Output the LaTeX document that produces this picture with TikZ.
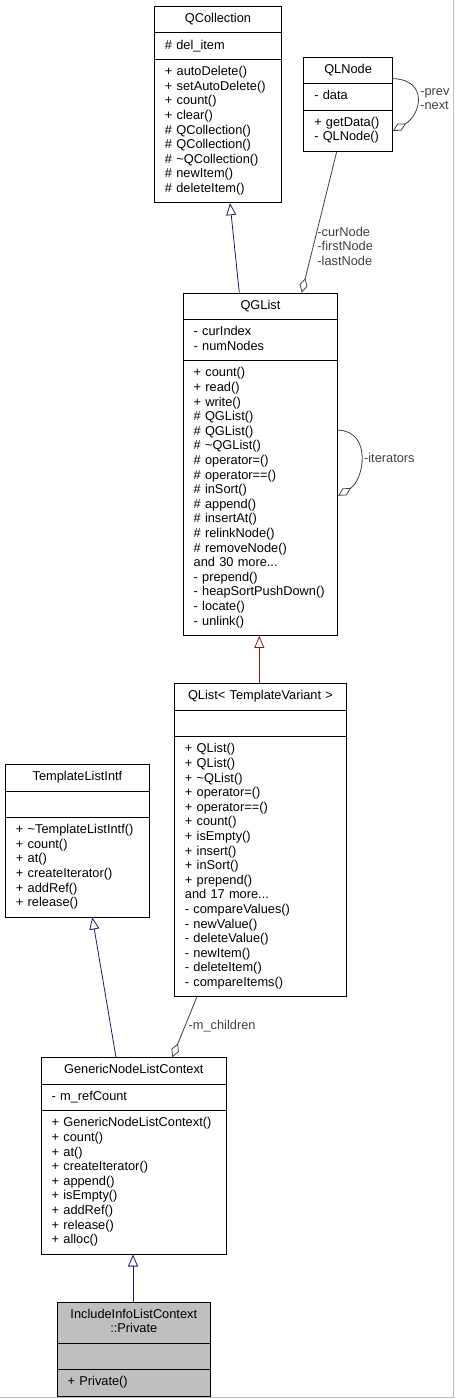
\documentclass[tikz,border=0pt]{standalone}
\usepackage{fontspec}
\setmainfont{Liberation Sans}
\usetikzlibrary{shapes.multipart,arrows.meta}

\definecolor{inhblue}{RGB}{25,25,112}
\definecolor{inhred}{RGB}{139,26,26}
\definecolor{usegray}{RGB}{64,64,64}
\definecolor{framegray}{RGB}{190,190,190}

% one strut at each end of a part
\newcommand{\ml}[1]{\strut#1\strut}
% centred title line
\newcommand{\ctr}[1]{\makebox[\linewidth]{#1}}

\tikzset{
  classbox/.style={rectangle split, rectangle split parts=3, draw=black, line width=0.9pt,
    anchor=north west, align=left, inner xsep=10.5pt, inner ysep=5.5pt,
    font=\fontsize{12.8}{14.6}\selectfont},
  inherit/.style={line width=0.8pt, -{Triangle[open,length=12pt,width=10pt]}},
  uses/.style={usegray, line width=0.8pt, -{Diamond[open,length=15pt,width=8pt]}},
  rolelabel/.style={font=\fontsize{12.8}{14.6}\selectfont, align=left, inner sep=1pt, anchor=west}
}

\begin{document}
\begin{tikzpicture}[x=1pt,y=-1pt]
\useasboundingbox (0,0) rectangle (455,1399);
\draw[framegray, line width=1pt] (453.5,0) -- (453.5,1397.5) -- (0,1397.5);

\node[classbox, text width=106pt] (qcol) at (154,6) {\ml{\ctr{QCollection}}
  \nodepart{second}\ml{\# del\_item}
  \nodepart{third}\ml{+ autoDelete()\\+ setAutoDelete()\\+ count()\\+ clear()\\\# QCollection()\\\# QCollection()\\\# \textasciitilde QCollection()\\\# newItem()\\\# deleteItem()}};

\node[classbox, text width=67.7pt] (qln) at (303.3,56.7) {\ml{\ctr{QLNode}}
  \nodepart{second}\ml{- data}
  \nodepart{third}\ml{+ getData()\\- QLNode()}};

\node[classbox, text width=133.6pt] (qgl) at (182.7,292.7) {\ml{\ctr{QGList}}
  \nodepart{second}\ml{- curIndex\\- numNodes}
  \nodepart{third}\ml{+ count()\\+ read()\\+ write()\\\# QGList()\\\# QGList()\\\# \textasciitilde QGList()\\\# operator=()\\\# operator==()\\\# inSort()\\\# append()\\\# insertAt()\\\# relinkNode()\\\# removeNode()\\and 30 more...\\- prepend()\\- heapSortPushDown()\\- locate()\\- unlink()}};

\node[classbox, text width=151pt] (qlt) at (174,683.3) {\ml{\ctr{QList\textless{} TemplateVariant \textgreater}}
  \nodepart{second}\ml{}
  \nodepart{third}\ml{+ QList()\\+ QList()\\+ \textasciitilde QList()\\+ operator=()\\+ operator==()\\+ count()\\+ isEmpty()\\+ insert()\\+ inSort()\\+ prepend()\\and 17 more...\\- compareValues()\\- newValue()\\- deleteValue()\\- newItem()\\- deleteItem()\\- compareItems()}};

\node[classbox, text width=123pt] (tli) at (5,764) {\ml{\ctr{TemplateListIntf}}
  \nodepart{second}\ml{}
  \nodepart{third}\ml{+ \textasciitilde TemplateListIntf()\\+ count()\\+ at()\\+ createIterator()\\+ addRef()\\+ release()}};

\node[classbox, text width=164.3pt] (gnl) at (40.7,1057.3) {\ml{\ctr{GenericNodeListContext}}
  \nodepart{second}\ml{- m\_refCount}
  \nodepart{third}\ml{+ GenericNodeListContext()\\+ count()\\+ at()\\+ createIterator()\\+ append()\\+ isEmpty()\\+ addRef()\\+ release()\\+ alloc()}};

\node[classbox, text width=132.3pt, fill={rgb,255:red,191;green,191;blue,191}] (priv) at (56.7,1301.7) {\ml{\ctr{IncludeInfoListContext}\\\ctr{::Private}}
  \nodepart{second}\ml{}
  \nodepart{third}\ml{+ Private()}};

% inheritance
\draw[inherit, inhblue] ([xshift=56.6pt]qgl.north west) -- ([xshift=76pt]qcol.south west);
\draw[inherit, inhred] ([xshift=85.3pt]qlt.north west) -- ([xshift=76.6pt]qgl.south west);
\draw[inherit, inhblue] ([xshift=75.3pt]gnl.north west) -- ([xshift=87.3pt]tli.south west);
\draw[inherit, inhblue] ([xshift=76.3pt]priv.north west) -- ([xshift=92.3pt]gnl.south west);

% usage
\draw[uses] ([xshift=33.4pt]qln.south west) -- ([xshift=119pt]qgl.north west)
  node[rolelabel, pos=0.67, xshift=2.8pt] (lblnodes) {-curNode\\-firstNode\\-lastNode};
\draw[uses] ([yshift=25.6pt]qln.east) .. controls +(36pt,-1.3pt) and +(28pt,16pt) .. ([yshift=-26.7pt]qln.east)
  node[rolelabel, pos=0.5, xshift=2pt] (lblprev) {-prev\\-next};
\draw[uses] ([yshift=34.2pt]qgl.east) .. controls +(34pt,-1.3pt) and +(26pt,16pt) .. ([yshift=-31.5pt]qgl.east)
  node[rolelabel, pos=0.5, xshift=2pt] (lbliter) {-iterators};
\draw[uses] ([xshift=22.7pt]qlt.south west) -- ([xshift=131.6pt]gnl.north west)
  node[rolelabel, pos=0.476, xshift=2.2pt] (lblchild) {-m\_children};
\end{tikzpicture}
\end{document}
